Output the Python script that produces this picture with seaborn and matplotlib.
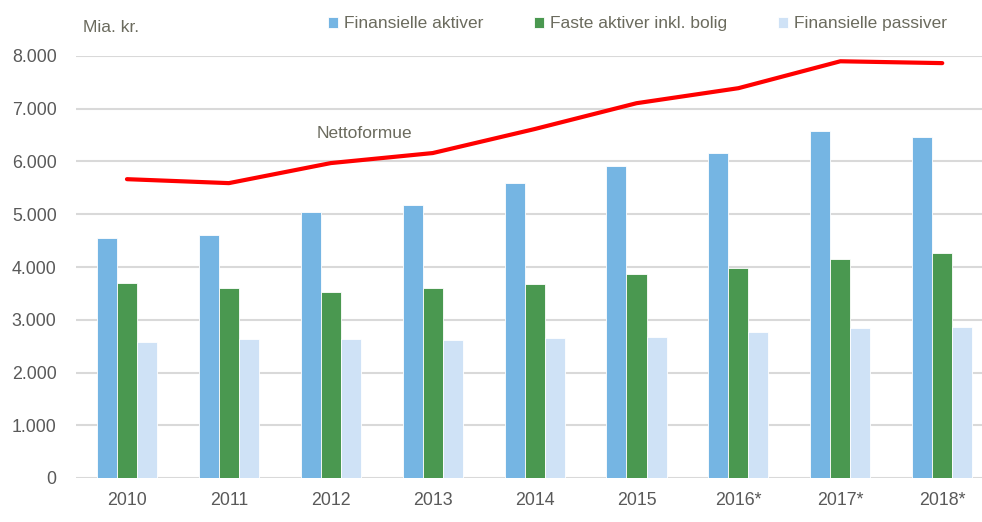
import pandas as pd
import numpy as np
import seaborn as sns
import matplotlib.pyplot as plt
from matplotlib.ticker import FuncFormatter

years = ['2010', '2011', '2012', '2013', '2014', '2015', '2016*', '2017*', '2018*']
fin_aktiver = [4550, 4605, 5045, 5175, 5590, 5915, 6160, 6580, 6465]
faste_aktiver = [3700, 3600, 3525, 3600, 3680, 3865, 3980, 4150, 4265]
fin_passiver = [2580, 2635, 2640, 2615, 2655, 2670, 2765, 2845, 2865]
nettoformue = [5665, 5590, 5970, 6160, 6615, 7105, 7390, 7900, 7865]

series = ['Finansielle aktiver', 'Faste aktiver inkl. bolig', 'Finansielle passiver']
colors = ['#75B5E3', '#4A9850', '#CFE2F6']

df = pd.DataFrame({
    'year': years * 3,
    'value': fin_aktiver + faste_aktiver + fin_passiver,
    'serie': [s for s in series for _ in years],
})

sns.set_style("white")
plt.rcParams['font.family'] = ['Liberation Sans', 'DejaVu Sans']
fs = 12.5

fig = plt.figure(figsize=(9.82, 5.22), dpi=100)
ax = fig.add_axes([76 / 982, 44 / 522, 906 / 982, 422 / 522])

sns.barplot(data=df, x='year', y='value', hue='serie', palette=colors,
            width=0.59, gap=0, ax=ax, edgecolor='white', linewidth=0.6,
            saturation=1)
sns.lineplot(x=np.arange(len(years)), y=nettoformue, color='#FF0000',
             linewidth=3, ax=ax, legend=False)

ax.set_xlim(-0.5, 8.39)
ax.set_ylim(0, 8000)
ax.set_yticks(range(0, 8001, 1000))
ax.yaxis.set_major_formatter(FuncFormatter(lambda v, p: f'{int(v):,}'.replace(',', '.')))
ax.grid(axis='y', color='#D9D9D9', linewidth=1.5)
ax.set_axisbelow(True)
for s in ax.spines.values():
    s.set_visible(False)
ax.tick_params(axis='both', length=0, labelsize=12.8, labelcolor='#595959')
ax.tick_params(axis='y', pad=14)
ax.tick_params(axis='x', pad=10)
ax.set_xlabel('')
ax.set_ylabel('')

ax.get_legend().remove()
handles, labels = ax.get_legend_handles_labels()
fig.legend(handles[:3], labels[:3], loc='center left',
           bbox_to_anchor=(328 / 982, 1 - 24 / 522), ncol=3, frameon=False,
           borderpad=0, borderaxespad=0, handlelength=0.57, handleheight=0.57,
           handletextpad=0.35, columnspacing=2.93, fontsize=fs,
           labelcolor='#6B6B5E')

fig.text(83 / 982, 1 - 27 / 522, 'Mia. kr.', fontsize=fs, color='#6B6B5E',
         ha='left', va='center')
ax.text(1.86, 6540, 'Nettoformue', fontsize=fs, color='#6B6B5E',
        ha='left', va='center')

plt.savefig('out.png', dpi=100)
